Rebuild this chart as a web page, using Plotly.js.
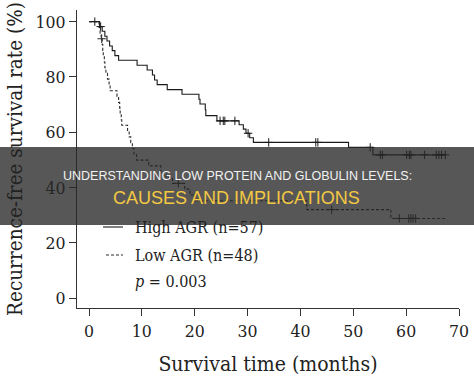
<!DOCTYPE html>
<html>
<head>
<meta charset="utf-8">
<script src="https://cdn.plot.ly/plotly-3.0.1.min.js"></script>
<style>
html,body{margin:0;padding:0;background:#fff;}
#chart{width:474px;height:378px;}
</style>
</head>
<body>
<div id="chart"></div>
<script>
// High AGR (n=57): event times (months) and survival (%) after each step
const highT = [0, 2.0, 2.5, 3.0, 3.4, 3.9, 4.4, 4.9, 5.6, 9.1, 11.0, 12.0, 12.4, 12.9, 14.8, 17.6, 20.8, 21.0, 22.0, 22.1, 24.2, 28.4, 29.2, 29.7, 30.4, 31.1, 49.1, 53.7, 67.4];
const highS = [100, 98.2, 96.5, 94.7, 93.0, 91.2, 89.5, 87.7, 86.0, 84.2, 82.5, 80.7, 78.9, 77.2, 75.4, 73.7, 71.9, 70.2, 68.1, 66.0, 64.1, 62.7, 61.1, 59.6, 58.0, 56.3, 54.5, 51.8, 51.8];
const highCensorT = [1.1, 2.2, 24.8, 25.4, 25.7, 27.6, 30.1, 34.0, 42.9, 43.3, 53.2, 55.1, 55.5, 60.1, 60.6, 60.9, 63.5, 65.7, 66.2, 66.7, 67.4];

// Low AGR (n=48)
const lowT = [0, 1.9, 2.1, 2.3, 2.5, 2.6, 2.7, 2.9, 3.0, 3.2, 3.5, 3.8, 4.0, 5.3, 5.6, 5.8, 5.9, 6.1, 6.2, 7.3, 7.6, 7.9, 8.2, 8.5, 9.0, 11.3, 13.6, 14.6, 15.8, 18.1, 19.1, 20.0, 41.2, 57.1, 67.4];
const lowS = [100, 97.9, 95.8, 93.8, 91.7, 89.6, 87.5, 85.4, 83.3, 81.3, 79.2, 77.1, 75.0, 72.9, 70.8, 68.7, 66.6, 64.5, 62.5, 60.4, 58.3, 56.2, 54.1, 52.0, 49.9, 47.8, 45.7, 43.6, 41.5, 39.4, 37.3, 35.2, 32.0, 28.8, 28.8];
const lowCensorT = [2.4, 16.9, 45.9, 58.7, 60.5, 60.9, 61.3, 61.8];

const xTicks = [0, 10, 20, 30, 40, 50, 60, 70];
const yTicks = [0, 20, 40, 60, 80, 100];
const legendLabels = ["High AGR (n=57)", "Low AGR (n=48)", "<i>p</i> = 0.003"];
const bannerLine1 = "UNDERSTANDING LOW PROTEIN AND GLOBULIN LEVELS:";
const bannerLine2 = "CAUSES AND IMPLICATIONS";

function survAt(times, surv, t) {
  let s = surv[0];
  for (let i = 0; i < times.length; i++) { if (times[i] <= t) s = surv[i]; }
  return s;
}

const SERIF = '"DejaVu Serif Condensed", "DejaVu Serif", serif';
const SANS = '"Liberation Sans", Arial, sans-serif';

const traces = [
  {x: highT, y: highS, mode: 'lines', line: {shape: 'hv', color: '#1a1a1a', width: 1.1}, hoverinfo: 'skip'},
  {x: lowT, y: lowS, mode: 'lines', line: {shape: 'hv', color: '#2a2a2a', width: 1.1, dash: '3px,2px'}, hoverinfo: 'skip'},
  {x: highCensorT, y: highCensorT.map(t => survAt(highT, highS, t)), mode: 'markers',
   marker: {symbol: 'cross-thin', size: 6, line: {color: '#1a1a1a', width: 1}}, hoverinfo: 'skip'},
  {x: lowCensorT, y: lowCensorT.map(t => survAt(lowT, lowS, t)), mode: 'markers',
   marker: {symbol: 'cross-thin', size: 6, line: {color: '#2a2a2a', width: 1}}, hoverinfo: 'skip'}
];

// pixel -> paper helpers for overlay placement
const L = 77, T = 10, W = 382, H = 298;
const px = v => (v - L) / W;
const py = v => (T + H - v) / H;

const layout = {
  width: 474, height: 378,
  margin: {l: L, r: 474 - L - W, t: T, b: 378 - T - H},
  paper_bgcolor: '#fff', plot_bgcolor: '#fff',
  showlegend: false,
  hovermode: false,
  xaxis: {
    range: [-2.27, 70], tickvals: xTicks, ticktext: xTicks.map(String),
    ticks: 'outside', ticklen: 7, tickwidth: 1, tickcolor: '#333',
    showline: true, linecolor: '#333', linewidth: 1,
    showgrid: false, zeroline: false,
    tickfont: {family: SERIF, size: 17.5, color: '#222'},
    title: {text: 'Survival time (months)', font: {family: SERIF, size: 21, color: '#222'}, standoff: 16},
    automargin: false
  },
  yaxis: {
    range: [-3.6, 104.2], tickvals: yTicks, ticktext: yTicks.map(String),
    ticks: 'outside', ticklen: 7, tickwidth: 1, tickcolor: '#333',
    showline: true, linecolor: '#333', linewidth: 1,
    showgrid: false, zeroline: false,
    tickfont: {family: SERIF, size: 17.5, color: '#222'},
    title: {text: 'Recurrence-free survival rate (%)', font: {family: SERIF, size: 20.5, color: '#222'}, standoff: 7},
    automargin: false
  },
  shapes: [
    {type: 'line', xref: 'paper', yref: 'paper', x0: px(103), x1: px(123), y0: py(227), y1: py(227),
     line: {color: '#1a1a1a', width: 1.1}},
    {type: 'line', xref: 'paper', yref: 'paper', x0: px(106), x1: px(123), y0: py(255), y1: py(255),
     line: {color: '#2a2a2a', width: 1.1, dash: '3px,2px'}},
    {type: 'rect', xref: 'paper', yref: 'paper', x0: px(0), x1: px(474), y0: py(225), y1: py(147),
     fillcolor: 'rgba(40,40,40,0.78)', line: {width: 0}, layer: 'above'}
  ],
  annotations: [
    {xref: 'paper', yref: 'paper', x: px(133), y: py(228), xanchor: 'left', yanchor: 'middle', showarrow: false,
     text: legendLabels[0], font: {family: SERIF, size: 16, color: '#222'}},
    {xref: 'paper', yref: 'paper', x: px(133), y: py(255), xanchor: 'left', yanchor: 'middle', showarrow: false,
     text: legendLabels[1], font: {family: SERIF, size: 16, color: '#222'}},
    {xref: 'paper', yref: 'paper', x: px(133), y: py(281), xanchor: 'left', yanchor: 'middle', showarrow: false,
     text: legendLabels[2], font: {family: SERIF, size: 16, color: '#222'}},
    {xref: 'paper', yref: 'paper', x: px(237), y: py(176), xanchor: 'center', yanchor: 'middle', showarrow: false,
     text: bannerLine1, font: {family: SANS, size: 12.5, color: '#f2f2f2'}},
    {xref: 'paper', yref: 'paper', x: px(236), y: py(198), xanchor: 'center', yanchor: 'middle', showarrow: false,
     text: bannerLine2, font: {family: SANS, size: 18, color: '#f3c843'}}
  ]
};

Plotly.newPlot('chart', traces, layout, {staticPlot: true, displayModeBar: false});
</script>
</body>
</html>
